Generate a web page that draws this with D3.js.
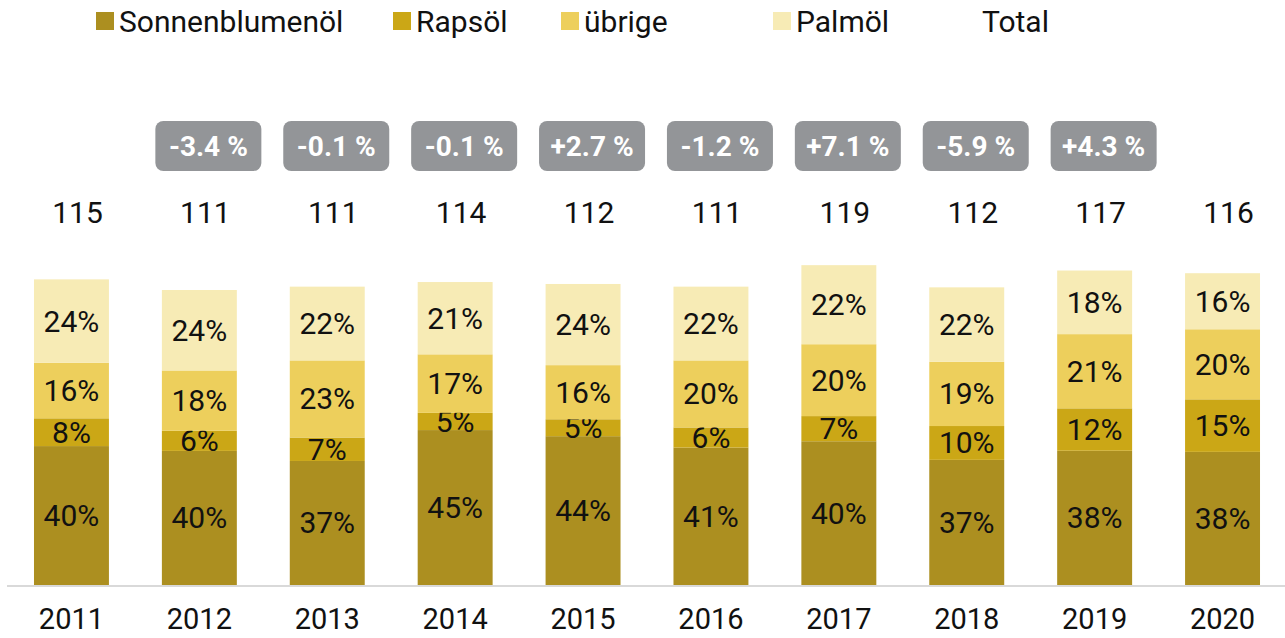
<!DOCTYPE html>
<html>
<head>
<meta charset="utf-8">
<script src="https://cdn.jsdelivr.net/npm/d3@7"></script>
<style>
  body { margin: 0; background: #fff; }
  text { font-family: Roboto, "Noto Sans", sans-serif; }
</style>
</head>
<body>
<svg id="chart" width="1285" height="638"></svg>
<script>
// data
var years = ["2011", "2012", "2013", "2014", "2015", "2016", "2017", "2018", "2019", "2020"];
var totals = [115, 111, 111, 114, 112, 111, 119, 112, 117, 116];
var sonnenblumen = [40, 40, 37, 45, 44, 41, 40, 37, 38, 38];
var raps = [8, 6, 7, 5, 5, 6, 7, 10, 12, 15];
var uebrige = [16, 18, 23, 17, 16, 20, 20, 19, 21, 20];
var palm = [24, 24, 22, 21, 24, 22, 22, 22, 18, 16];
var changes = [null, -3.4, -0.1, -0.1, 2.7, -1.2, 7.1, -5.9, 4.3, null];

var seriesNames = ["Sonnenblumenöl", "Rapsöl", "übrige", "Palmöl"];
var seriesShares = [sonnenblumen, raps, uebrige, palm];
var colors = ["#ac8f20", "#cba716", "#edcf5c", "#f7ebb5"];

var svg = d3.select("#chart");
var baseY = 585;

var x = d3.scaleBand()
    .domain(years)
    .range([7, 1287])
    .paddingInner(0.414)
    .paddingOuter(0.211);

// segment size = share of the total
var y = d3.scaleLinear().domain([0, 140]).range([baseY, baseY - 140 * 3.02]);

var rows = years.map(function(yr, i) {
    var r = { year: yr, total: totals[i] };
    seriesNames.forEach(function(s, k) {
        r[s] = totals[i] * seriesShares[k][i] / 100;
    });
    return r;
});

var stack = d3.stack().keys(seriesNames);
var layers = stack(rows);

var g = svg.append("g");

layers.forEach(function(layer, k) {
    var grp = g.append("g");
    grp.selectAll("rect")
        .data(layer)
        .enter()
        .append("rect")
        .attr("x", function(d) { return x(d.data.year); })
        .attr("y", function(d) { return y(d[1]); })
        .attr("width", x.bandwidth())
        .attr("height", function(d) { return y(d[0]) - y(d[1]); })
        .attr("fill", colors[k]);

    grp.selectAll("text")
        .data(layer)
        .enter()
        .append("text")
        .attr("x", function(d) { return x(d.data.year) + x.bandwidth() / 2; })
        .attr("y", function(d) { return (y(d[0]) + y(d[1])) / 2; })
        .attr("text-anchor", "middle")
        .attr("dominant-baseline", "central")
        .attr("font-size", 30)
        .attr("fill", "#111")
        .text(function(d, i) { return seriesShares[k][i] + "%"; });
});

// axis line
svg.append("line")
    .attr("x1", 7).attr("x2", 1285)
    .attr("y1", baseY + 1).attr("y2", baseY + 1)
    .attr("stroke", "#d9d9d9")
    .attr("stroke-width", 2);

// year labels
svg.append("g").selectAll("text")
    .data(years)
    .enter()
    .append("text")
    .attr("x", function(d) { return x(d) + x.bandwidth() / 2; })
    .attr("y", 619)
    .attr("text-anchor", "middle")
    .attr("dominant-baseline", "central")
    .attr("font-size", 29)
    .attr("fill", "#111")
    .text(function(d) { return d; });

// totals
svg.append("g").selectAll("text")
    .data(totals)
    .enter()
    .append("text")
    .attr("x", function(d, i) { return x(years[i]) + x.bandwidth() / 2 + 6; })
    .attr("y", 212)
    .attr("text-anchor", "middle")
    .attr("dominant-baseline", "central")
    .attr("font-size", 30)
    .attr("fill", "#111")
    .text(function(d) { return d; });

// change badges
var badges = svg.append("g").selectAll("g")
    .data(changes.map(function(c, i) { return { c: c, year: years[i] }; })
        .filter(function(d) { return d.c !== null; }))
    .enter()
    .append("g")
    .attr("transform", function(d) {
        return "translate(" + (x(d.year) + x.bandwidth() / 2 + 9) + ",146)";
    });

badges.append("rect")
    .attr("x", -53).attr("y", -25)
    .attr("width", 106).attr("height", 50)
    .attr("rx", 8)
    .attr("fill", "#939598");

badges.append("text")
    .attr("text-anchor", "middle")
    .attr("dominant-baseline", "central")
    .attr("font-size", 28)
    .attr("font-weight", "bold")
    .attr("fill", "#fff")
    .text(function(d) {
        return (d.c > 0 ? "+" : "") + d.c.toFixed(1) + " %";
    });

// legend
var legendItems = seriesNames.concat(["Total"]);
var legendColors = colors.concat([null]);
var legendX = [96, 393, 561, 773, 959];
var legend = svg.append("g").selectAll("g")
    .data(legendItems)
    .enter()
    .append("g")
    .attr("transform", function(d, i) { return "translate(" + legendX[i] + ",21)"; });

legend.append("rect")
    .attr("x", 0).attr("y", -9)
    .attr("width", 18).attr("height", 18)
    .attr("fill", function(d, i) { return legendColors[i] || "none"; });

legend.append("text")
    .attr("x", 23)
    .attr("y", 0)
    .attr("dominant-baseline", "central")
    .attr("font-size", 30)
    .attr("fill", "#111")
    .text(function(d) { return d; });
</script>
</body>
</html>
